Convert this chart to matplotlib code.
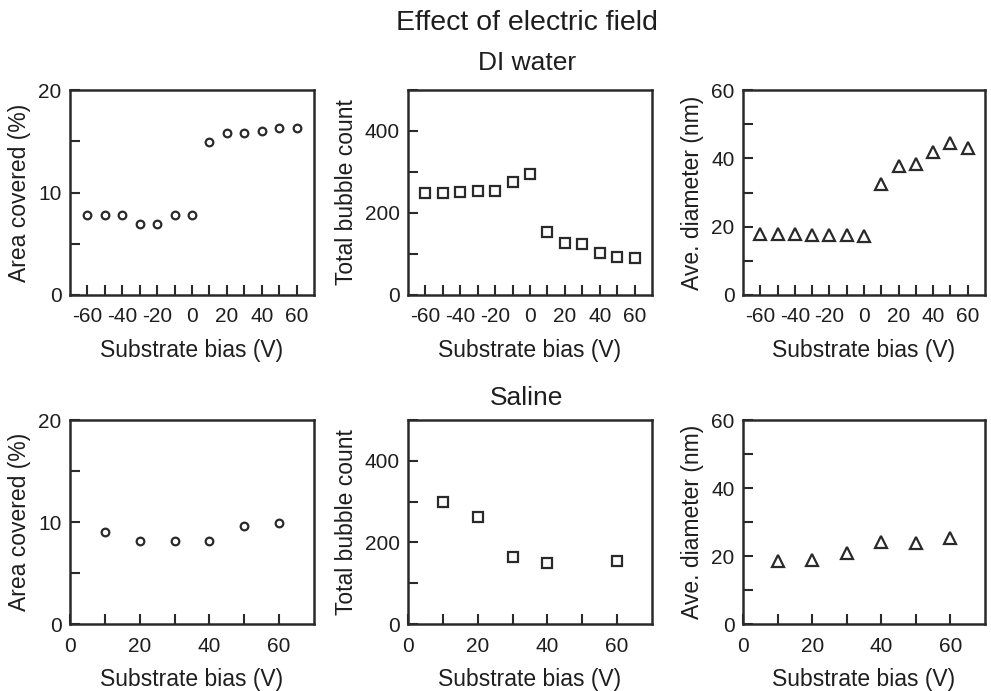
import matplotlib
matplotlib.use("Agg")
import matplotlib.pyplot as plt
from matplotlib.ticker import MultipleLocator, FixedLocator

plt.rcParams['font.family'] = ['Liberation Sans', 'DejaVu Sans']
plt.rcParams['axes.unicode_minus'] = False

# Data
bias_di = [-60, -50, -40, -30, -20, -10, 0, 10, 20, 30, 40, 50, 60]
area_di = [7.8, 7.8, 7.8, 6.9, 6.9, 7.8, 7.8, 14.9, 15.8, 15.8, 16.0, 16.3, 16.3]
count_di = [249, 249, 251, 254, 254, 276, 296, 154, 126, 124, 102, 93, 91]
diam_di = [17.8, 17.8, 17.8, 17.5, 17.5, 17.5, 17.3, 32.6, 37.9, 38.2, 42.0, 44.4, 42.9]

bias_sal_area = [10, 20, 30, 40, 50, 60]
area_sal = [9.0, 8.1, 8.1, 8.1, 9.6, 9.9]
bias_sal_count = [10, 20, 30, 40, 60]
count_sal = [300, 262, 164, 149, 155]
bias_sal_diam = [10, 20, 30, 40, 50, 60]
diam_sal = [18.4, 18.8, 21.0, 24.2, 23.7, 25.4]

ylabels = ["Area covered (%)", "Total bubble count", "Ave. diameter (nm)"]
ylims = [(0, 20), (0, 500), (0, 60)]
ymajor = [10, 200, 20]
yminor = [5, 100, 10]
markers = ['o', 's', '^']
msizes = [5.5, 6.5, 8]

fig = plt.figure(figsize=(9.91, 6.91), dpi=100)
W, H = 991, 691
cols = [(70, 244), (408, 244), (743, 242)]
rows = [(90, 205), (420, 204)]

ec = '#2a2a2a'
tc = '#1e1e1e'

def make_ax(col, row):
    x0, w = cols[col]
    y0, h = rows[row]
    return fig.add_axes([x0 / W, (H - y0 - h) / H, w / W, h / H])

top_data = [area_di, count_di, diam_di]
bot_data = [(bias_sal_area, area_sal), (bias_sal_count, count_sal), (bias_sal_diam, diam_sal)]

for r in range(2):
    for c in range(3):
        ax = make_ax(c, r)
        if r == 0:
            xs, ys = bias_di, top_data[c]
            ax.set_xlim(-70, 70)
            ax.xaxis.set_major_locator(FixedLocator([-60, -40, -20, 0, 20, 40, 60]))
            ax.xaxis.set_minor_locator(FixedLocator([-50, -30, -10, 10, 30, 50]))
        else:
            xs, ys = bot_data[c]
            ax.set_xlim(0, 70)
            ax.xaxis.set_major_locator(FixedLocator([0, 20, 40, 60]))
            ax.xaxis.set_minor_locator(FixedLocator([10, 30, 50]))
        ax.plot(xs, ys, linestyle='none', marker=markers[c], ms=msizes[c],
                mfc='none', mec=ec, mew=1.6)
        ax.set_ylim(*ylims[c])
        ax.yaxis.set_major_locator(MultipleLocator(ymajor[c]))
        ax.yaxis.set_minor_locator(MultipleLocator(yminor[c]))
        ax.tick_params(which='both', direction='in', length=7, width=1.5,
                       color=ec, labelsize=15, labelcolor=tc)
        ax.tick_params(axis='x', which='both', pad=9)
        ax.tick_params(axis='y', which='both', pad=6)
        for s in ax.spines.values():
            s.set_linewidth(1.8)
            s.set_color(ec)
        ax.set_xlabel("Substrate bias (V)", fontsize=16.5, color=tc, labelpad=9)
        ax.set_ylabel(ylabels[c], fontsize=16.5, color=tc, labelpad=5)

cx = 527 / W
fig.text(cx, 1 - 23 / H, "Effect of electric field", ha='center', va='center',
         fontsize=20.5, color=tc)
fig.text(cx, 1 - 63 / H, "DI water", ha='center', va='center',
         fontsize=19, color=tc)
fig.text(cx, 1 - 398 / H, "Saline", ha='center', va='center',
         fontsize=19, color=tc)

fig.savefig("out.png", dpi=100)
